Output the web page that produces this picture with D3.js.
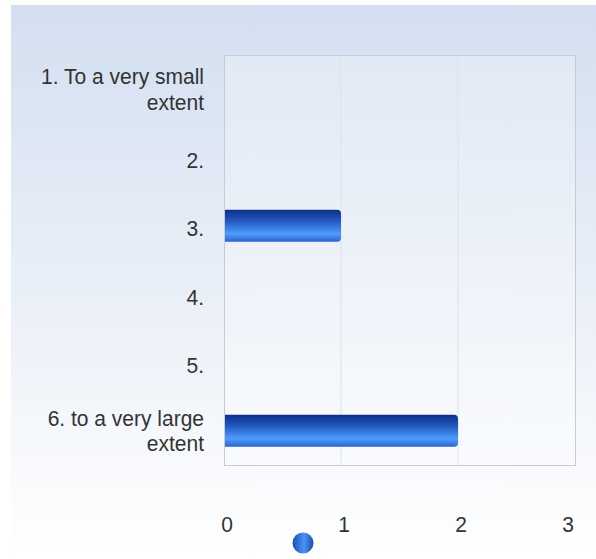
<!DOCTYPE html>
<html>
<head>
<meta charset="utf-8">
<script src="https://cdn.jsdelivr.net/npm/d3@7"></script>
<style>
  html, body { margin: 0; padding: 0; background: #fff; }
  svg { display: block; font-family: "Liberation Sans", Arial, sans-serif; }
</style>
</head>
<body>
<div id="chart"></div>
<script>
// chart data
const categories = [
  ["1. To a very small", "extent"],
  ["2."],
  ["3."],
  ["4."],
  ["5."],
  ["6. to a very large", "extent"]
];
const values = [0, 0, 1, 0, 0, 2];
const xTicks = [0, 1, 2, 3];

const width = 596, height = 559;
const margin = { top: 55, right: 21, bottom: 94, left: 224 };

const svg = d3.select("#chart").append("svg")
  .attr("width", width)
  .attr("height", height);

const defs = svg.append("defs");

const bg = defs.append("linearGradient").attr("id", "bg")
  .attr("x1", 0).attr("y1", 0).attr("x2", 0).attr("y2", 1);
bg.append("stop").attr("offset", "0%").attr("stop-color", "#d3dff0");
bg.append("stop").attr("offset", "100%").attr("stop-color", "#ffffff");

const barGrad = defs.append("linearGradient").attr("id", "bar")
  .attr("x1", 0).attr("y1", 0).attr("x2", 0).attr("y2", 1);
barGrad.append("stop").attr("offset", "0%").attr("stop-color", "#0b3189");
barGrad.append("stop").attr("offset", "35%").attr("stop-color", "#2458c0");
barGrad.append("stop").attr("offset", "75%").attr("stop-color", "#4e9cff");
barGrad.append("stop").attr("offset", "100%").attr("stop-color", "#2a63c9");

const dot = defs.append("linearGradient").attr("id", "dot")
  .attr("x1", 0).attr("y1", 0).attr("x2", 1).attr("y2", 0);
dot.append("stop").attr("offset", "0%").attr("stop-color", "#1b4fb5");
dot.append("stop").attr("offset", "55%").attr("stop-color", "#4a92f5");
dot.append("stop").attr("offset", "100%").attr("stop-color", "#1d4fae");

// background with white edge at top/left
svg.append("rect").attr("x", 11).attr("y", 5)
  .attr("width", width - 11).attr("height", height - 5)
  .attr("fill", "url(#bg)");

const x = d3.scaleLinear().domain([0, 3]).range([margin.left, width - margin.right]);
const y = d3.scaleBand().domain(d3.range(categories.length))
  .range([margin.top, height - margin.bottom]);

// plot background
svg.append("rect")
  .attr("x", x(0)).attr("y", margin.top)
  .attr("width", x(3) - x(0)).attr("height", y.range()[1] - margin.top)
  .attr("fill", "#ffffff").attr("fill-opacity", 0.25);

// grid lines
svg.append("g").selectAll("line")
  .data(xTicks.slice(1, -1))
  .join("line")
  .attr("x1", d => x(d)).attr("x2", d => x(d))
  .attr("y1", margin.top).attr("y2", y.range()[1])
  .attr("stroke", "#dde3ea").attr("stroke-width", 1);

// plot frame
svg.append("rect")
  .attr("x", x(0) + 0.5).attr("y", margin.top + 0.5)
  .attr("width", x(3) - x(0)).attr("height", y.range()[1] - margin.top)
  .attr("fill", "none").attr("stroke", "#c8ccd2").attr("stroke-width", 1);

// bars
const barH = 32;
svg.append("g").selectAll("path")
  .data(values.map((v, i) => ({ v, i })).filter(d => d.v > 0))
  .join("path")
  .attr("fill", "url(#bar)")
  .attr("d", d => {
    const x0 = x(0) + 1, x1 = x(d.v);
    const y0 = y(d.i) + y.bandwidth() / 2 - barH / 2, y1 = y0 + barH;
    const r = 4;
    return `M${x0},${y0}H${x1 - r}Q${x1},${y0} ${x1},${y0 + r}V${y1 - r}Q${x1},${y1} ${x1 - r},${y1}H${x0}Z`;
  });

// category labels (slightly stretched vertically like the original)
const lab = svg.append("g").selectAll("text")
  .data(categories)
  .join("text")
  .attr("text-anchor", "end")
  .attr("font-size", 21)
  .attr("fill", "#333333")
  .attr("transform", (d, i) => `translate(204,${y(i) + y.bandwidth() / 2 + 10.5}) scale(1,1.08)`);
lab.selectAll("tspan")
  .data(d => d.map((t, k) => ({ t, k, n: d.length })))
  .join("tspan")
  .attr("x", 0)
  .attr("y", d => (d.k - (d.n - 1) / 2) * 23.5 - (d.n > 1 ? 2.5 : 0))
  .text(d => d.t);

// x axis tick labels
svg.append("g").selectAll("text")
  .data(xTicks)
  .join("text")
  .attr("transform", d => `translate(${Math.min(x(d) + 3, 568)},532) scale(1,1.08)`)
  .attr("text-anchor", "middle")
  .attr("font-size", 21)
  .attr("fill", "#333333")
  .text(d => d);

// legend marker
svg.append("circle")
  .attr("cx", 303).attr("cy", 543).attr("r", 10.5)
  .attr("fill", "url(#dot)");
</script>
</body>
</html>
